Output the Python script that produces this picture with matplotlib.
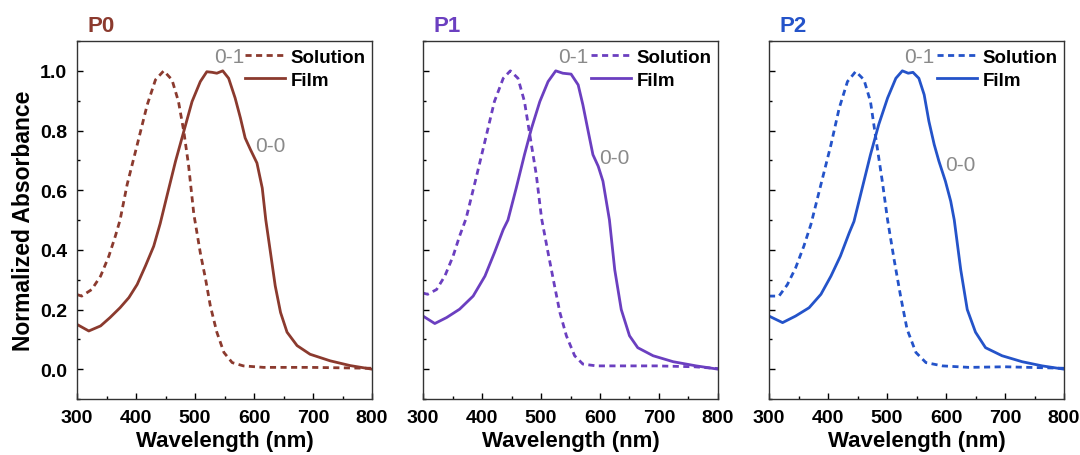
import numpy as np
import matplotlib
matplotlib.use("Agg")
import matplotlib.pyplot as plt
from matplotlib.ticker import MultipleLocator

plt.rcParams['font.family'] = ['Liberation Sans', 'DejaVu Sans']

panels = ["P0", "P1", "P2"]
colors = ["#8B3A2E", "#6B3FC0", "#2453C9"]

# --- P0 ---
p0_sol_wl = [300, 308, 325, 340, 354, 365, 373, 385, 402, 419, 433, 447, 461, 472, 481, 489,
             498, 509, 518, 526, 537, 549, 563, 582, 616, 695, 800]
p0_sol_ab = [0.25, 0.245, 0.267, 0.312, 0.379, 0.446, 0.50, 0.619, 0.752, 0.886, 0.97, 1.0, 0.97,
             0.897, 0.797, 0.685, 0.52, 0.39, 0.301, 0.212, 0.124, 0.056, 0.022, 0.011, 0.006, 0.006, 0.003]
p0_film_wl = [300, 320, 340, 356, 373, 388, 402, 416, 430, 441, 453, 467, 481, 495, 509, 520, 529,
              537, 547, 557, 568, 577, 585, 594, 605, 614, 620, 628, 636, 645, 656, 673, 695, 729, 763, 800]
p0_film_ab = [0.15, 0.128, 0.145, 0.173, 0.206, 0.24, 0.284, 0.346, 0.412, 0.488, 0.585, 0.697, 0.797,
              0.897, 0.964, 0.997, 0.995, 0.992, 1.0, 0.975, 0.909, 0.842, 0.775, 0.736, 0.691, 0.607,
              0.50, 0.39, 0.279, 0.19, 0.124, 0.079, 0.05, 0.028, 0.012, 0.0]

# --- P1 ---
p1_sol_wl = [300, 308, 323, 337, 351, 362, 373, 390, 405, 421, 436, 448, 461, 472, 481, 492, 501,
             512, 523, 532, 543, 557, 571, 594, 639, 695, 760, 800]
p1_sol_ab = [0.255, 0.251, 0.267, 0.312, 0.379, 0.446, 0.505, 0.641, 0.764, 0.897, 0.975, 1.0, 0.975,
             0.897, 0.786, 0.652, 0.505, 0.39, 0.279, 0.19, 0.112, 0.045, 0.017, 0.011, 0.011, 0.011, 0.008, 0.002]
p1_film_wl = [300, 320, 340, 362, 385, 405, 421, 436, 444, 458, 472, 484, 498, 512, 525, 537, 551,
              563, 571, 580, 588, 597, 605, 616, 625, 636, 650, 664, 690, 724, 763, 800]
p1_film_ab = [0.178, 0.153, 0.173, 0.201, 0.245, 0.312, 0.39, 0.468, 0.50, 0.607, 0.719, 0.808, 0.897,
              0.964, 1.0, 0.992, 0.989, 0.953, 0.886, 0.797, 0.719, 0.68, 0.63, 0.50, 0.333, 0.20, 0.112,
              0.072, 0.045, 0.025, 0.011, 0.0]

# --- P2 ---
p2_sol_wl = [300, 303, 317, 331, 345, 359, 371, 388, 405, 419, 433, 447, 461, 472, 481, 492, 501,
             512, 523, 534, 549, 566, 594, 639, 700, 800]
p2_sol_ab = [0.245, 0.245, 0.245, 0.283, 0.339, 0.412, 0.485, 0.619, 0.752, 0.875, 0.964, 0.998, 0.97,
             0.897, 0.775, 0.63, 0.50, 0.368, 0.245, 0.134, 0.056, 0.022, 0.011, 0.006, 0.008, 0.003]
p2_film_wl = [300, 323, 345, 368, 388, 405, 421, 436, 444, 458, 472, 486, 501, 515, 526, 536, 544,
              554, 563, 571, 580, 588, 599, 608, 614, 625, 636, 650, 667, 695, 729, 763, 800]
p2_film_ab = [0.178, 0.156, 0.178, 0.206, 0.251, 0.312, 0.379, 0.457, 0.495, 0.607, 0.719, 0.82, 0.909,
              0.975, 1.0, 0.992, 0.995, 0.975, 0.92, 0.831, 0.753, 0.697, 0.63, 0.563, 0.50, 0.333, 0.20,
              0.124, 0.072, 0.045, 0.025, 0.011, 0.0]

solutions = [(p0_sol_wl, p0_sol_ab), (p1_sol_wl, p1_sol_ab), (p2_sol_wl, p2_sol_ab)]
films = [(p0_film_wl, p0_film_ab), (p1_film_wl, p1_film_ab), (p2_film_wl, p2_film_ab)]

# vibronic peak labels (wavelength, absorbance) per panel
label_01 = [(558, 1.047), (555, 1.047), (555, 1.047)]
label_00 = [(627, 0.75), (624, 0.71), (625, 0.685)]

fig = plt.figure(figsize=(10.8, 4.56), dpi=100)
lefts = [77, 423, 769]
ax_w, ax_top, ax_bot = 295, 42, 400
W, H = 1080, 456

for i, name in enumerate(panels):
    ax = fig.add_axes([lefts[i] / W, 1 - ax_bot / H, ax_w / W, (ax_bot - ax_top) / H])
    c = colors[i]
    ax.plot(*solutions[i], color=c, lw=2.0, ls=(0, (2.2, 1.6)), label="Solution",
            solid_joinstyle='round')
    ax.plot(*films[i], color=c, lw=2.0, label="Film", solid_joinstyle='round')
    ax.set_xlim(300, 800)
    ax.set_ylim(-0.1, 1.1)
    ax.xaxis.set_major_locator(MultipleLocator(100))
    ax.xaxis.set_minor_locator(MultipleLocator(50))
    ax.yaxis.set_major_locator(MultipleLocator(0.2))
    ax.yaxis.set_minor_locator(MultipleLocator(0.1))
    ax.tick_params(which='both', direction='in', top=False, right=False)
    ax.tick_params(which='major', length=4, width=1.0, labelsize=14, pad=7)
    ax.tick_params(which='minor', length=2.5, width=1.0)
    for lab in ax.get_xticklabels() + ax.get_yticklabels():
        lab.set_fontweight('bold')
    for s in ax.spines.values():
        s.set_color('#333333')
        s.set_linewidth(1.0)
    if i == 0:
        ax.set_ylabel("Normalized Absorbance", fontsize=16.5, fontweight='bold', labelpad=4)
    else:
        ax.set_yticklabels([])
    ax.set_xlabel("Wavelength (nm)", fontsize=16, fontweight='bold', labelpad=3)
    ax.text(0.035, 1.028, name, transform=ax.transAxes, fontsize=16, fontweight='bold',
            color=c, ha='left', va='baseline')
    ax.legend(loc='upper right', bbox_to_anchor=(1.035, 1.025), frameon=False,
              handlelength=2.1, handletextpad=0.3, labelspacing=0.3,
              prop={'weight': 'bold', 'size': 13.5})
    ax.text(*label_01[i], "0-1", color='#8a8a8a', fontsize=15, ha='center', va='center')
    ax.text(*label_00[i], "0-0", color='#8a8a8a', fontsize=15, ha='center', va='center')

fig.savefig("out.png", dpi=100)
